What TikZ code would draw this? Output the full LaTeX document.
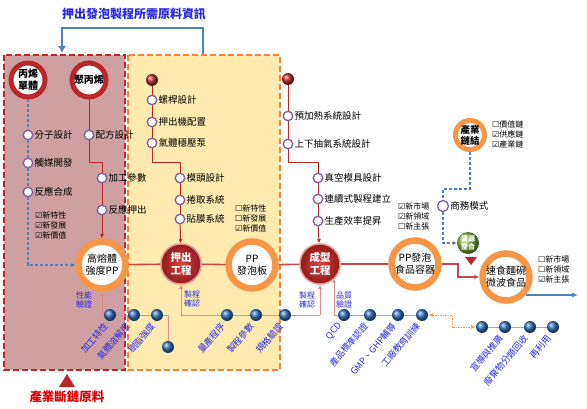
\documentclass[tikz,border=0pt]{standalone}
\usepackage{fontspec}
\setmainfont{Noto Sans CJK TC}
\newfontfamily\symfont{DejaVu Sans}
\usetikzlibrary{arrows.meta}

\definecolor{dred}{RGB}{185,40,40}
\definecolor{lred}{RGB}{226,140,140}
\definecolor{orng}{RGB}{247,150,70}
\definecolor{purp}{RGB}{128,100,162}
\definecolor{sblue}{RGB}{79,129,189}
\definecolor{ink}{RGB}{40,40,225}
\definecolor{rosy}{RGB}{206,160,162}
\definecolor{cream}{RGB}{255,235,176}
\definecolor{ballblue}{RGB}{45,110,185}
\definecolor{leaf}{RGB}{140,185,70}
\definecolor{workin}{RGB}{210,70,65}
\definecolor{workout}{RGB}{145,25,25}

\newcommand{\boxon}{{\symfont\char"2611}}
\newcommand{\boxoff}{{\symfont\char"2610}}

\begin{document}
\begin{tikzpicture}[x=1pt,y=-1pt]
    \tikzset{knot/.style = {circle,draw=purp,line width=1.4pt,fill=white,minimum size=9.5pt,inner sep=0pt}}
    \tikzset{txt/.style = {font=\fontsize{9.5}{10}\selectfont,inner sep=1pt}}
    \tikzset{ring/.style = {circle,draw=orng,line width=6.5pt,fill=white,minimum size=47pt,inner sep=0pt,align=center,font=\fontsize{10}{12}\selectfont}}
    \tikzset{redring/.style = {circle,draw=dred,line width=5pt,fill=white,minimum size=34pt,inner sep=0pt,align=center,font=\fontsize{10}{12}\selectfont\bfseries}}
    \tikzset{work/.style = {circle,draw=lred,line width=1.5pt,shading=radial,inner color=workin,outer color=workout,minimum size=40pt,inner sep=0pt,align=center,text=white,font=\fontsize{10.5}{12.5}\selectfont\bfseries}}
    \tikzset{dot/.style = {circle,ball color=dred,minimum size=12pt,inner sep=0pt}}
    \tikzset{bead/.style = {circle,ball color=ballblue,minimum size=12pt,inner sep=0pt}}
    \tikzset{chk/.style = {anchor=north west,align=left,font=\fontsize{8}{10}\selectfont,inner sep=0pt}}
    \tikzset{note/.style = {text=ink,align=center,font=\fontsize{8}{9.5}\selectfont,inner sep=0pt}}
    \tikzset{tag/.style = {rotate=50,anchor=east,text=ink,font=\fontsize{9}{10}\selectfont,inner sep=0pt}}
    \tikzset{rline/.style = {draw=dred,line width=1pt}}
    \tikzset{rarrow/.style = {rline,-{Latex[length=4pt,width=4pt]}}}
    \tikzset{main/.style = {draw=dred!85!white,line width=1.6pt}}
    \tikzset{bdash/.style = {draw=sblue,line width=1.1pt,dash pattern=on 3pt off 2pt}}
    \tikzset{plink/.style = {draw=lred,line width=1pt}}
    \useasboundingbox (0,0) rectangle (587,409);
    % areas
    \filldraw[fill=rosy,draw=dred,line width=1.3pt,dash pattern=on 6pt off 3pt] (4,55) rectangle (125,370);
    \filldraw[fill=cream,draw=orng!85!red,line width=1.5pt,dash pattern=on 6pt off 3pt] (128,55) rectangle (280,370);
    \fill[dred] (59,387) -- (75,387) -- (67,374) -- cycle;
    \fill[dred] (465,257) -- (477,257) -- (471,265) -- cycle;
    % texts
    \node[font=\fontsize{12}{14}\selectfont\bfseries,text=ink] (title) at (134,14) {押出發泡製程所需原料資訊};
    \node[font=\fontsize{12.5}{14}\selectfont\bfseries,text=red!85!black] (lack) at (67,397) {產業斷鏈原料};
    \coordinate (t1) at (203,54);
    \coordinate (t2) at (62,53);
    % left column
    \node[redring] (mono) at (28,80) {丙烯\\單體};
    \node[redring] (pp) at (89,80) {聚丙烯};
    \node[knot,label={[txt]right:分子設計}] (mol) at (28,135) {};
    \node[knot,label={[txt]right:觸媒開發}] (cat) at (28,163) {};
    \node[knot,label={[txt]right:反應合成}] (syn) at (28,192) {};
    \node[chk] (newl) at (35,212) {\boxon{}新特性\\\boxon{}新發展\\\boxon{}新價值};
    \node[knot,label={[txt]right:配方設計}] (form) at (89,135) {};
    \node[knot,label={[txt]right:加工參數}] (param) at (102,178) {};
    \node[knot,label={[txt]right:反應押出}] (rext) at (102,210) {};
    \coordinate (k1) at (89,163);
    \node[ring] (hms) at (102,265) {高熔體\\強度PP};
    % middle column
    \node[dot] (d1) at (152,80) {};
    \node[knot,label={[txt]right:螺桿設計}] (screw) at (152,100) {};
    \node[knot,label={[txt]right:押出機配置}] (extc) at (152,122) {};
    \node[knot,label={[txt]right:氣體穩壓泵}] (gas) at (152,143) {};
    \coordinate (k2) at (152,163);
    \node[knot,label={[txt]right:模頭設計}] (die) at (180,178) {};
    \node[knot,label={[txt]right:捲取系統}] (wind) at (180,200) {};
    \node[knot,label={[txt]right:貼膜系統}] (film) at (180,219) {};
    \node[work] (extr) at (181,264) {押出\\工程};
    \node[ring] (board) at (252,265) {PP\\發泡板};
    \node[chk] (newm) at (235,205) {\boxoff{}新特性\\\boxoff{}新發展\\\boxon{}新價值};
    % right column
    \node[dot] (d2) at (288,79) {};
    \node[knot,label={[txt]right:預加熱系統設計}] (preh) at (288,116) {};
    \node[knot,label={[txt]right:上下抽氣系統設計}] (vac) at (288,144) {};
    \coordinate (k3) at (288,163);
    \node[knot,label={[txt]right:真空模具設計}] (mold) at (318,178) {};
    \node[knot,label={[txt]right:連續式製程建立}] (cont) at (318,199) {};
    \node[knot,label={[txt]right:生產效率提昇}] (eff) at (318,221) {};
    \node[work] (forming) at (320,264) {成型\\工程};
    \node[chk] (newr) at (398,203) {\boxon{}新市場\\\boxon{}新領域\\\boxoff{}新主張};
    \node[ring] (cup) at (415,264) {PP發泡\\食品容器};
    \coordinate (k4) at (458,264);
    \coordinate (k5) at (458,277);
    % market side
    \node[ring,line width=5pt,minimum size=29pt,font=\fontsize{9.5}{11}\selectfont\bfseries] (chain) at (470,135) {產業\\鏈結};
    \node[chk] (link) at (492,121) {\boxoff{}價值鏈\\\boxon{}供應鏈\\\boxon{}產業鏈};
    \coordinate (k6) at (470,189);
    \coordinate (k7) at (443,189);
    \node[knot,minimum size=11pt,label={[txt]right:商務模式}] (biz) at (443,206) {};
    \node[circle,ball color=leaf,minimum size=22pt,inner sep=0pt,align=center,text=white,font=\fontsize{7}{8}\selectfont\bfseries] (res) at (468,243) {資源\\整合};
    \node[ring] (food) at (506,277) {速食麵碗\\微波食品};
    \node[chk] (newf) at (538,256) {\boxoff{}新市場\\\boxoff{}新領域\\\boxon{}新主張};
    \coordinate (out) at (578,295);
    % beads
    \coordinate (a0) at (102,315);
    \coordinate (a1) at (168,315);
    \node[bead] (b1) at (110,315) {};
    \node[bead] (b2) at (134,315) {};
    \node[bead] (b3) at (157,315) {};
    \node[bead] (b4) at (168,347) {};
    \coordinate (c0) at (181,315);
    \node[bead] (b6) at (227,315) {};
    \node[bead] (b7) at (256,315) {};
    \node[bead] (b8) at (285,315) {};
    \coordinate (c1) at (320,315);
    \coordinate (c2) at (334,315);
    \node[bead] (b9) at (344,315) {};
    \node[bead] (b10) at (370,315) {};
    \node[bead] (b11) at (398,315) {};
    \node[bead] (b12) at (422,315) {};
    \coordinate (k8) at (452,315);
    \node[bead] (b13) at (482,327) {};
    \node[bead] (b14) at (505,327) {};
    \node[bead] (b15) at (530,327) {};
    \node[bead] (b16) at (553,327) {};
    \node[note] (perf) at (84,300) {性能\\驗證};
    \node[note] (chk1) at (192,299) {製程\\確認};
    \node[note] (chk2) at (307,300) {製程\\確認};
    \node[note] (qual) at (344,300) {品質\\驗證};
    \node[tag] at ([shift={(-4pt,-9pt)}]b1.center) {加工特性};
    \node[tag] at ([shift={(-6pt,-9pt)}]b2.center) {氣體溶解度};
    \node[tag] at ([shift={(-4pt,-9pt)}]b3.center) {樹脂強度};
    \node[tag] at ([shift={(-4pt,-9pt)}]b6.center) {量產程序};
    \node[tag] at ([shift={(-4pt,-9pt)}]b7.center) {製程參數};
    \node[tag] at ([shift={(-4pt,-9pt)}]b8.center) {規格驗證};
    \node[tag] at ([shift={(-4pt,-9pt)}]b9.center) {QCD};
    \node[tag] at ([shift={(-4pt,-9pt)}]b10.center) {產品標準認證};
    \node[tag] at ([shift={(-4pt,-9pt)}]b11.center) {GMP、GHP輔導};
    \node[tag] at ([shift={(-4pt,-9pt)}]b12.center) {工廠教育訓練};
    \node[tag] at ([shift={(-4pt,-9pt)}]b14.center) {宣導與推廣};
    \node[tag] at ([shift={(-4pt,-9pt)}]b15.center) {廢棄物分類回收};
    \node[tag] at ([shift={(-4pt,-9pt)}]b16.center) {再利用};
    %edges
    \draw[draw=sblue,line width=2pt,-{Latex[length=7pt,width=8pt]}] (t1) -- ++(0,-26) -| (t2);
    \draw[bdash] (mono) -- (mol);
    \draw[bdash] (mol) -- (cat);
    \draw[bdash] (cat) -- (syn);
    \draw[bdash,-{Latex[length=4pt,width=4pt]}] (syn) |- (hms);
    \draw[rline] (pp) -- (form);
    \draw[rline] (form) -- (k1) -| (param);
    \draw[rline] (param) -- (rext);
    \draw[rarrow] (rext) -- (hms);
    \draw[rline] (d1) -- (screw);
    \draw[rline] (screw) -- (extc);
    \draw[rline] (extc) -- (gas);
    \draw[rline] (gas) -- (k2) -| (die);
    \draw[rline] (die) -- (wind);
    \draw[rline] (wind) -- (film);
    \draw[rarrow] (film) -- (extr);
    \draw[rline] (d2) -- (preh);
    \draw[rline] (preh) -- (vac);
    \draw[rline] (vac) -- (k3) -| (mold);
    \draw[rline] (mold) -- (cont);
    \draw[rline] (cont) -- (eff);
    \draw[rarrow] (eff) -- (forming);
    \draw[main] (hms) -- (extr);
    \draw[main] (extr) -- (board);
    \draw[main] (board) -- (forming);
    \draw[main] (forming) -- (cup);
    \draw[main,-{Latex[length=5pt,width=5pt]}] (cup) -- (k4) -- (k5) -- (food);
    \draw[bdash] (chain) -- (k6) -- (k7) -- (biz);
    \draw[bdash,-{Latex[length=4pt,width=4pt]}] (biz) |- (res);
    \draw[draw=sblue,line width=1.6pt,-{Latex[length=6pt,width=5pt]}] (food.-40 |- out) -- (out);
    \draw[plink,-{Latex[length=4pt,width=4pt]}] (a0) -- (hms);
    \draw[plink] (a0) -- (b1) -- (b2) -- (b3) -- (a1) -- (b4);
    \draw[plink,-{Latex[length=4pt,width=4pt]}] (c0) -- (extr);
    \draw[plink] (c0) -- (b6) -- (b7) -- (b8) -- (c1);
    \draw[plink,-{Latex[length=4pt,width=4pt]}] (c1) -- (forming);
    \draw[plink,-{Latex[length=4pt,width=4pt]}] (c2) -- (c2 |- forming.-45);
    \draw[plink] (c2) -- (b9) -- (b10) -- (b11) -- (b12);
    \draw[draw=orng,line width=1pt,dash pattern=on 1.5pt off 1pt,{Latex[length=5pt,width=4pt]}-{Latex[length=5pt,width=4pt]}] (b12) -- (k8) |- (b13);
    \draw[plink] (b13) -- (b14) -- (b15) -- (b16);
\end{tikzpicture}
\end{document}
